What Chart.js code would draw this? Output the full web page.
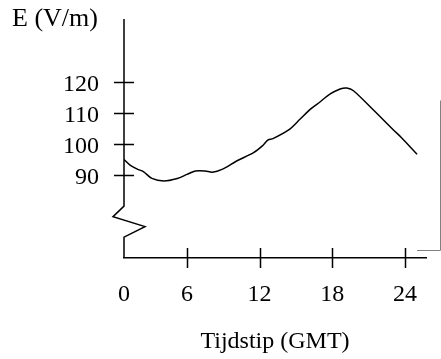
<!DOCTYPE html>
<html>
<head>
<meta charset="utf-8">
<script src="https://cdn.jsdelivr.net/npm/chart.js@4"></script>
<style>
  html, body { margin: 0; padding: 0; background: #fff; }
  canvas { display: block; }
</style>
</head>
<body>
<canvas id="chart" width="441" height="359"></canvas>
<script>
// tijdstip (uur, GMT) en veldsterkte E (V/m)
const hours = [0.8, 1.3, 1.9, 2.4, 3.1, 4.1, 5.2, 6.0, 6.7, 7.5, 8.1, 8.9, 10.1, 11.5, 12.2, 12.7, 13.1, 14.4, 15.35, 16.2, 16.85, 17.8, 18.65, 19.2, 19.75, 21.4, 23.05, 23.7, 25.0];
const field = [95.0, 93.2, 91.9, 91.1, 88.9, 88.1, 88.9, 90.2, 91.3, 91.3, 90.9, 91.8, 94.5, 97.2, 99.3, 101.3, 101.7, 104.5, 108.0, 111.2, 113.1, 116.0, 117.7, 118.0, 117.1, 110.9, 104.5, 102.1, 96.7];
const xTicks = [6, 12, 18, 24];
const yTicks = [90, 100, 110, 120];

// de getekende oorsprong ligt iets rechts van 0 uur
const xMin = 0.8;
const xMax = 25.74;
const yMin = 63.3;
const yMax = 140.2;

const serif = "'Liberation Serif', 'Times New Roman', serif";

// y-as met onderbreking, streepjes en de losse grijze haak rechts
const axisDecor = {
  id: "axisDecor",
  afterDraw(chart) {
    const { ctx, chartArea, scales } = chart;
    const x = scales.x;
    const y = scales.y;
    const x0 = chartArea.left;

    ctx.save();
    ctx.strokeStyle = "#000";
    ctx.lineWidth = 1.5;

    ctx.beginPath();
    ctx.moveTo(x0, chartArea.top);
    ctx.lineTo(x0, y.getPixelForValue(80));
    ctx.lineTo(x0 - 11, y.getPixelForValue(76.6));
    ctx.lineTo(x0 + 21, y.getPixelForValue(73.4));
    ctx.lineTo(x0, y.getPixelForValue(70));
    ctx.lineTo(x0, chartArea.bottom);
    ctx.stroke();

    ctx.beginPath();
    yTicks.forEach((v) => {
      const py = Math.round(y.getPixelForValue(v)) + 0.5;
      ctx.moveTo(x0 - 10, py);
      ctx.lineTo(x0 + 10, py);
    });
    xTicks.forEach((v) => {
      const px = Math.round(x.getPixelForValue(v)) + 0.5;
      ctx.moveTo(px, chartArea.bottom - 10);
      ctx.lineTo(px, chartArea.bottom + 10);
    });
    ctx.stroke();

    ctx.strokeStyle = "#808080";
    ctx.lineWidth = 1;
    ctx.beginPath();
    ctx.moveTo(417, 250.5);
    ctx.lineTo(440.5, 250.5);
    ctx.lineTo(440.5, 100.5);
    ctx.stroke();

    ctx.fillStyle = "#000";
    ctx.font = "26px " + serif;
    ctx.textBaseline = "alphabetic";
    ctx.textAlign = "left";
    ctx.fillText("E (V/m)", 12, 26);
    ctx.restore();
  },
};

new Chart(document.getElementById("chart"), {
  type: "line",
  data: {
    datasets: [
      {
        data: hours.map((h, i) => ({ x: h, y: field[i] })),
        borderColor: "#000",
        borderWidth: 1.5,
        pointRadius: 0,
        tension: 0.3,
        fill: false,
      },
    ],
  },
  options: {
    responsive: false,
    animation: false,
    layout: { padding: { top: 19, right: 15, left: 0, bottom: 0 } },
    plugins: {
      legend: { display: false },
      tooltip: { enabled: false },
    },
    scales: {
      x: {
        type: "linear",
        min: xMin,
        max: xMax,
        border: { display: true, color: "#000", width: 1.5 },
        grid: { display: false, drawTicks: false },
        afterBuildTicks: (scale) => {
          scale.ticks = [xMin, ...xTicks].map((v) => ({ value: v }));
        },
        afterFit: (scale) => {
          scale.height = 101;
          scale.paddingLeft = 0;
          scale.paddingRight = 0;
        },
        ticks: {
          color: "#000",
          font: { family: serif, size: 24 },
          padding: 22,
          maxRotation: 0,
          autoSkip: false,
          callback: (v) => (v === xMin ? "0" : v),
        },
        title: {
          display: true,
          text: "Tijdstip (GMT)",
          color: "#000",
          font: { family: serif, size: 24 },
          padding: { top: 0, bottom: 3 },
        },
      },
      y: {
        type: "linear",
        min: yMin,
        max: yMax,
        border: { display: false },
        grid: { display: false, drawTicks: false },
        afterBuildTicks: (scale) => {
          scale.ticks = yTicks.map((v) => ({ value: v }));
        },
        afterFit: (scale) => {
          scale.width = 124;
          scale.paddingTop = 0;
          scale.paddingBottom = 0;
        },
        ticks: {
          color: "#000",
          font: { family: serif, size: 24 },
          padding: 25,
          labelOffset: 3,
        },
      },
    },
  },
  plugins: [axisDecor],
});
</script>
</body>
</html>
